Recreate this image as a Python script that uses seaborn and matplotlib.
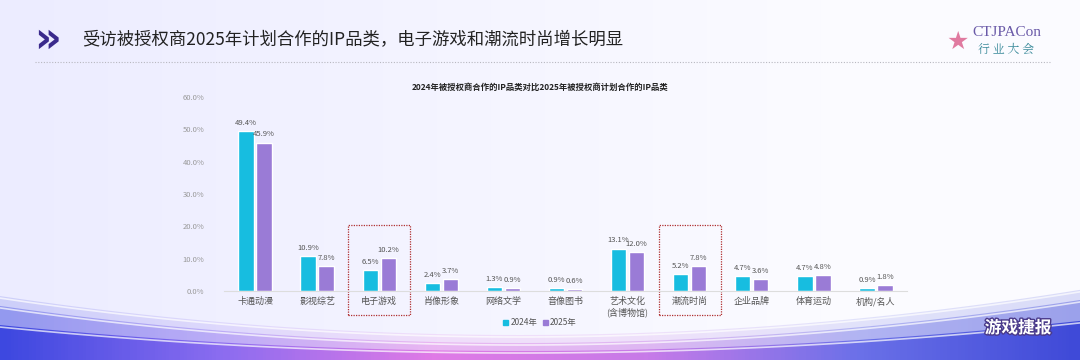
import numpy as np
import pandas as pd
import matplotlib
matplotlib.use('Agg')
import matplotlib.pyplot as plt
import matplotlib.patheffects as pe
from matplotlib.patches import Rectangle, Polygon
from matplotlib.colors import LinearSegmentedColormap
import seaborn as sns

# ============================================
# Data
# ============================================
CATEGORIES = ['卡通动漫', '影视综艺', '电子游戏', '肖像形象', '网络文学', '音像图书',
              '艺术文化\n(含博物馆)', '潮流时尚', '企业品牌', '体育运动', '机构/名人']
VALUES_2024 = [49.4, 10.9, 6.5, 2.4, 1.3, 0.9, 13.1, 5.2, 4.7, 4.7, 0.9]
VALUES_2025 = [45.9, 7.8, 10.2, 3.7, 0.9, 0.6, 12.0, 7.8, 3.6, 4.8, 1.8]
YEARS = ['2024年', '2025年']
HIGHLIGHT = ['电子游戏', '潮流时尚']

TITLE = '受访被授权商2025年计划合作的IP品类，电子游戏和潮流时尚增长明显'
CHART_TITLE = '2024年被授权商合作的IP品类对比2025年被授权商计划合作的IP品类'

COLORS = ['#17bde0', '#9a7bd6']

sns.set_theme(style='white')
plt.rcParams['font.family'] = ['Noto Sans CJK SC', 'DejaVu Sans']

df = pd.DataFrame({
    'category': CATEGORIES * 2,
    'year': [YEARS[0]] * len(CATEGORIES) + [YEARS[1]] * len(CATEGORIES),
    'value': VALUES_2024 + VALUES_2025,
})

fig = plt.figure(figsize=(10.8, 3.6), dpi=100)

# ============================================
# Background
# ============================================
bg = fig.add_axes([0, 0, 1, 1], zorder=-10)
bg.set_xlim(0, 1080)
bg.set_ylim(360, 0)
bg.axis('off')
gx = np.linspace(0, 1, 200)
gy = np.linspace(0, 1, 100)
GX, GY = np.meshgrid(gx, gy)
shade = 0.94 + 0.06 * np.clip(GX * 1.3, 0, 1)
img = np.dstack([shade * 0.985, shade * 0.985, np.ones_like(shade)])
bg.imshow(img, extent=[0, 1080, 360, 0], aspect='auto')

# bottom wave bands
wave_cmap = LinearSegmentedColormap.from_list(
    'wave', ['#3d48e0', '#8a6cf0', '#e07ae6', '#c77be8', '#6a70e8', '#3f4ad8'])
grad = np.linspace(0, 1, 300)[None, :].repeat(5, 0)
wave_x = np.linspace(0, 1080, 80)
u = (wave_x - 520) / 540
for depth, curve, alpha in [(335, 42, 0.18), (343, 40, 0.4), (351, 28, 1.0)]:
    edge = depth - curve * u ** 2
    layer = bg.imshow(grad, cmap=wave_cmap, extent=[0, 1080, 360, 260],
                      aspect='auto', alpha=alpha)
    poly = Polygon(np.vstack([np.column_stack([wave_x, edge]), [[1080, 360], [0, 360]]]),
                   closed=True, transform=bg.transData)
    layer.set_clip_path(poly)
    bg.plot(wave_x, edge + 2, color='white', lw=1.2, alpha=0.7)

# header
bg.text(34, 40, '»', fontsize=30, color='#3a2a8c', fontweight='bold',
        va='center', ha='left', family='DejaVu Sans')
bg.text(82, 40, TITLE, fontsize=12.5, color='#222222', va='center', ha='left')
bg.plot([35, 1050], [62, 62], color='#b8b8c0', lw=0.8, ls=(0, (1, 1.5)))
bg.text(972, 32, 'CTJPACon', fontsize=11, color='#6a5aa8', va='center', ha='left',
        family='Liberation Serif')
bg.text(978, 49, '行 业 大 会', fontsize=8.5, color='#3a8a9a', va='center', ha='left',
        family=['Noto Serif CJK SC', 'Noto Sans CJK SC'])
bg.text(958, 42, '★', fontsize=18, color='#e07aa0', va='center', ha='center',
        family='DejaVu Sans')

# watermark
bg.text(1018, 328, '游戏捷报', fontsize=12, color='white', fontweight='bold',
        va='center', ha='center',
        path_effects=[pe.withStroke(linewidth=2, foreground='#4a3a8a')])

# ============================================
# Chart
# ============================================
ax = fig.add_axes([224 / 1080, 1 - 291 / 360, (907 - 224) / 1080, 194 / 360])
ax.patch.set_alpha(0)
sns.barplot(data=df, x='category', y='value', hue='year', palette=COLORS,
            saturation=1, width=0.58, gap=0.15, ax=ax, legend=False)
ax.set_ylim(0, 60)
ax.set_xlim(-0.5, len(CATEGORIES) - 0.5)
ax.set_yticks(np.arange(0, 61, 10))
ax.set_yticklabels([f'{v:.1f}%' for v in np.arange(0, 61, 10)], fontsize=5.5, color='#999999')
ax.tick_params(axis='x', labelsize=6.5, colors='#555555', length=0, pad=4)
ax.tick_params(axis='y', length=0, pad=14)
ax.set_xlabel('')
ax.set_ylabel('')
for s in ['top', 'right', 'left']:
    ax.spines[s].set_visible(False)
ax.spines['bottom'].set_color('#dddddd')
ax.spines['bottom'].set_linewidth(0.8)

for container in ax.containers:
    ax.bar_label(container, fmt='%.1f%%', fontsize=5.5, color='#555555', padding=3)

for name in HIGHLIGHT:
    i = CATEGORIES.index(name)
    ax.add_patch(Rectangle((i - 0.5, -7.5), 1.0, 28, fill=False, ec='#b03030',
                           lw=0.9, ls=(0, (1, 1)), clip_on=False))

ax.set_title(CHART_TITLE, fontsize=6, fontweight='bold', color='#222222', pad=5,
             x=(540 - 224) / (907 - 224))

# legend
handles = [Rectangle((0, 0), 1, 1, color=c) for c in COLORS]
fig.legend(handles, YEARS, loc='center', bbox_to_anchor=(540 / 1080, 1 - 323 / 360),
           ncol=2, frameon=False, fontsize=6, handlelength=0.6, handleheight=0.6,
           columnspacing=0.6, handletextpad=0.3, labelcolor='#555555')

fig.savefig('out.png', dpi=100)
